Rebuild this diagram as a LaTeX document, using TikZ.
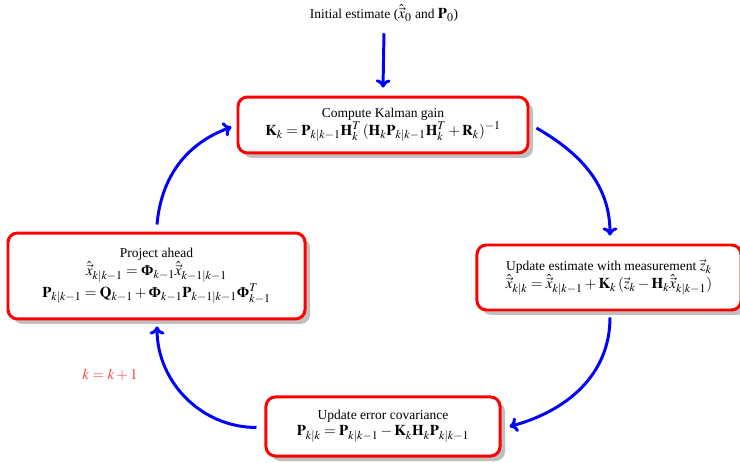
\documentclass[tikz,border=0pt]{standalone}
\usepackage{mathptmx}
\usepackage{fontspec}
\setmainfont{Liberation Serif}
\DeclareMathSizes{10}{11.1}{8.8}{7}
\newcommand{\bPhi}{\mbox{\fontsize{11.1}{12}\selectfont\bfseries Φ}}
\usetikzlibrary{calc,arrows.meta,shadows}
\begin{document}
\begin{tikzpicture}[x=0.74pt,y=0.74pt,
  stepbox/.style={draw=red, line width=2.2pt, rounded corners=7pt, fill=white, align=center,
    drop shadow={shadow xshift=3.7pt, shadow yshift=-3.7pt, fill=black!25, opacity=1}, inner sep=0pt},
  flow/.style={draw=blue, line width=2.2pt, -{To[length=6pt,width=11pt]}}]
\useasboundingbox (0,0) rectangle (740,463);
\node (init) at (384,450) {Initial estimate ($\hat{\vec{x}}_0$ and $\mathbf{P}_0$)};
\node[stepbox, minimum width=214.6pt, minimum height=41.4pt] (kal) at (383,338)
  {Compute Kalman gain\\ $\mathbf{K}_k = \mathbf{P}_{k|k-1}\mathbf{H}_k^T\,(\mathbf{H}_k\mathbf{P}_{k|k-1}\mathbf{H}_k^T+\mathbf{R}_k)^{-1}$};
\node[stepbox, minimum width=195.4pt, minimum height=48.1pt] (upd) at (609,185.5)
  {Update estimate with measurement $\vec{z}_k$\\ $\hat{\vec{x}}_{k|k} = \hat{\vec{x}}_{k|k-1} + \mathbf{K}_k\,(\vec{z}_k - \mathbf{H}_k\hat{\vec{x}}_{k|k-1})$};
\node[stepbox, minimum width=173.2pt, minimum height=43.7pt] (err) at (383,36.5)
  {Update error covariance\\ $\mathbf{P}_{k|k} = \mathbf{P}_{k|k-1} - \mathbf{K}_k\mathbf{H}_k\mathbf{P}_{k|k-1}$};
\node[stepbox, minimum width=219.8pt, minimum height=63.6pt] (proj) at (156.5,187)
  {Project ahead\\ $\hat{\vec{x}}_{k|k-1} = \bPhi_{k-1}\hat{\vec{x}}_{k-1|k-1}$\\
   $\mathbf{P}_{k|k-1} = \mathbf{Q}_{k-1} + \bPhi_{k-1}\mathbf{P}_{k-1|k-1}\bPhi_{k-1}^T$};
\node[text=red!75] (kk) at (110,88) {$k=k+1$};
\draw[flow] ($(init.south)+(0,-7)$) -- ($(kal.north)+(0,8)$);
\draw[flow] ($(kal.east)+(7,-3)$) to[out=-30,in=90] ($(upd.north)+(1,8)$);
\draw[flow] ($(upd.south)+(1,-6)$) to[out=-90,in=15] ($(err.east)+(8,0)$);
\draw[flow] ($(err.west)+(-8,-1)$) to[out=180,in=-90] ($(proj.south)+(0.5,-6)$);
\draw[flow] ($(proj.north)+(0.5,7)$) to[out=85,in=200] ($(kal.west)+(-5,-2)$);
\end{tikzpicture}
\end{document}
